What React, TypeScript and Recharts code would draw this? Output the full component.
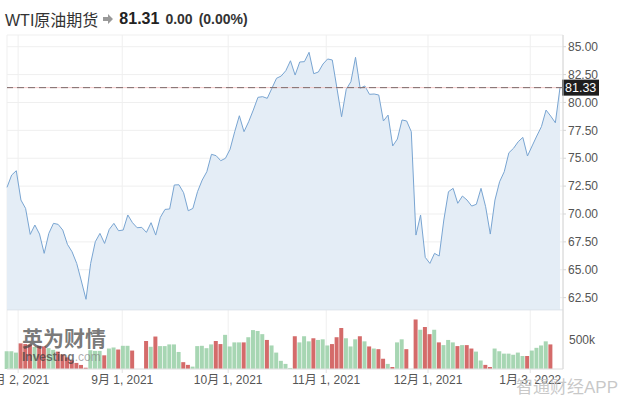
import React from 'react';
import {
  ComposedChart,
  Area,
  Bar,
  Cell,
  XAxis,
  YAxis,
  CartesianGrid,
  ReferenceLine
} from 'recharts';

// WTI daily closes, late Jul 2021 .. mid Jan 2022
const prices = [
  72.39, 73.49, 73.88, 71.25, 70.5, 68.17, 69.01, 68.2, 66.47, 68.26,
  69.16, 69.07, 68.56, 67.28, 66.61, 65.57, 63.99, 62.35, 65.57, 67.51,
  68.26, 67.36, 68.62, 69.16, 68.5, 68.56, 69.91, 69.22, 68.77, 68.8,
  68.35, 69.22, 68.11, 69.7, 70.41, 70.45, 72.6, 72.62, 71.91, 70.29,
  70.5, 72.0, 73.04, 73.79, 75.35, 75.23, 74.78, 74.99, 75.8, 77.38,
  78.81, 77.38, 78.27, 79.32, 80.46, 80.52, 80.37, 81.27, 82.17, 82.37,
  82.85, 83.74, 82.46, 83.63, 83.66, 84.5, 82.58, 82.73, 83.45, 83.9,
  83.81, 81.27, 78.72, 81.18, 81.86, 84.05, 81.27, 81.48, 80.73, 80.76,
  80.67, 78.34, 78.87, 76.1, 76.72, 78.43, 78.34, 77.38, 68.11, 69.91,
  66.11, 65.57, 66.47, 66.23, 69.46, 72.0, 72.3, 70.96, 71.61, 71.25,
  70.71, 70.87, 72.3, 70.65, 68.2, 71.25, 72.89, 73.79, 75.49, 75.89,
  76.48, 76.87, 75.2, 76.1, 76.99, 77.83, 79.32, 78.78, 78.18, 81.33
];

// volume in thousands (null = no bar)
const volumes = [
  306, 306, 283, 442, 430, 420, 380, 400, 390, 360,
  330, 300, 250, 200, 150, 105, 70, 22, 324, 312,
  312, 236, 353, 371, 336, 400, 400, 318, null, null,
  483, 383, 560, 395, 395, 424, 424, 294, 118, 71,
  41, 395, 400, 359, 424, 483, 430, 589, 389, 459,
  459, 459, 548, 671, 654, 601, 501, 406, 283, 141,
  88, 18, 565, 459, 565, 477, 530, 501, 512, 406,
  430, 548, 707, 530, 389, 512, 565, 477, 389, 353,
  342, 177, 88, 35, 459, 512, 342, null, 854, 677,
  724, 601, 677, 459, 412, 501, 459, 395, 412, 412,
  353, 300, 147, 71, 35, 353, 306, 265, 265, 247,
  283, 224, 224, 318, 365, 406, 477, 424, null, null
];

const xTicks = [2.4, 24.8, 47.6, 68.7, 90.6, 112.6];
const xLabels = ['8月 2, 2021', '9月 1, 2021', '10月 1, 2021', '11月 1, 2021', '12月 1, 2021', '1月 3, 2022'];
const priceTicks = [62.5, 65, 67.5, 70, 72.5, 75, 77.5, 80, 82.5, 85];
const lastPrice = 81.33;

const data = prices.map((p, i) => ({ i, price: p, vol: volumes[i] }));

const FONT = "Arial, 'Liberation Sans', 'Noto Sans CJK SC', sans-serif";

const PriceTag = ({ viewBox }: any) => {
  const x = viewBox.x + viewBox.width;
  const y = viewBox.y;
  return (
    <g>
      <rect x={x - 1} y={y - 8} width={37} height={16} fill="#1e1e1e" />
      <text x={x + 2} y={y + 4.5} fill="#fff" fontSize={12.5} fontFamily={FONT}>
        {lastPrice.toFixed(2)}
      </text>
    </g>
  );
};

export default function App() {
  return (
    <div style={{ position: 'absolute', left: 0, top: 0, width: 626, height: 400, background: '#fff', fontFamily: FONT }}>
      <div style={{ position: 'absolute', left: 5, top: 7, display: 'flex', alignItems: 'center', whiteSpace: 'nowrap' }}>
        <span style={{ fontSize: 16, color: '#333' }}>WTI原油期货</span>
        <svg width={10} height={10} style={{ marginLeft: 5, marginRight: 6 }}>
          <polygon points="0,3 5,3 5,0 10,5 5,10 5,7 0,7" fill="#999" />
        </svg>
        <span style={{ fontSize: 16, fontWeight: 'bold', color: '#222' }}>81.31</span>
        <span style={{ fontSize: 14, fontWeight: 'bold', color: '#333', marginLeft: 6 }}>0.00</span>
        <span style={{ fontSize: 14, fontWeight: 'bold', color: '#333', marginLeft: 6 }}>(0.00%)</span>
      </div>
      <ComposedChart
        width={626}
        height={400}
        data={data}
        margin={{ top: 35, right: 0, left: 7, bottom: 1 }}
        style={{ position: 'absolute', left: 0, top: 0 }}
      >
        <CartesianGrid yAxisId="p" stroke="#efefef" />
        <XAxis
          dataKey="i"
          type="number"
          domain={[0, prices.length - 1]}
          padding={{ left: 0, right: 3 }}
          ticks={xTicks}
          interval={0}
          tickFormatter={(v: number) => xLabels[xTicks.indexOf(v)]}
          tick={{ fill: '#555', fontSize: 12, fontFamily: FONT }}
          axisLine={{ stroke: '#e3e3e3' }}
          tickLine={{ stroke: '#e3e3e3' }}
          tickSize={4}
          height={30}
        />
        <YAxis
          yAxisId="p"
          orientation="right"
          domain={[56.1, 86.05]}
          ticks={priceTicks}
          interval={0}
          tickFormatter={(v: number) => v.toFixed(2)}
          tick={{ fill: '#555', fontSize: 12, fontFamily: FONT }}
          axisLine={{ stroke: '#d6d6d6' }}
          tickLine={{ stroke: '#d6d6d6' }}
          tickSize={3}
          tickMargin={2}
          width={63}
          allowDataOverflow
        />
        <YAxis yAxisId="v" orientation="right" hide width={0} domain={[0, 5760]} allowDataOverflow />
        <Area
          yAxisId="p"
          dataKey="price"
          type="linear"
          stroke="#79a5d2"
          strokeWidth={1}
          fill="#e4edf6"
          fillOpacity={1}
          baseValue={61.4}
          dot={false}
          activeDot={false}
          isAnimationActive={false}
        />
        <ReferenceLine yAxisId="p" y={61.4} stroke="#dde3ea" />
        <Bar yAxisId="v" dataKey="vol" barSize={4} isAnimationActive={false}>
          {data.map((d, k) => (
            <Cell key={k} fill={k === 0 || prices[k] >= prices[k - 1] ? '#a7d6b3' : '#d46b6a'} />
          ))}
        </Bar>
        <ReferenceLine
          yAxisId="v"
          y={500}
          stroke="none"
          label={{ value: '500k', position: 'right', fill: '#555', fontSize: 12, fontFamily: FONT, offset: 6 }}
        />
        <ReferenceLine yAxisId="p" y={lastPrice} stroke="#f4caca" />
        <ReferenceLine
          yAxisId="p"
          y={lastPrice}
          stroke="#7e6c6c"
          strokeDasharray="7 4"
          label={<PriceTag />}
        />
      </ComposedChart>
      <div style={{ position: 'absolute', left: 22, top: 327, pointerEvents: 'none' }}>
        <div style={{ fontSize: 21, fontWeight: 'bold', color: 'rgba(70,70,70,0.72)', letterSpacing: 0, lineHeight: '24px' }}>英为财情</div>
        <div style={{ fontSize: 12, fontWeight: 'bold', color: 'rgba(60,60,60,0.7)', lineHeight: '13px', marginTop: 0 }}>
          Investing<span style={{ color: 'rgba(120,120,120,0.6)', fontWeight: 'normal' }}>.com</span>
        </div>
      </div>
      <div style={{ position: 'absolute', left: 516, top: 373, fontSize: 17, color: 'rgba(190,190,190,0.85)', whiteSpace: 'nowrap', pointerEvents: 'none' }}>
        智通财经APP
      </div>
    </div>
  );
}
